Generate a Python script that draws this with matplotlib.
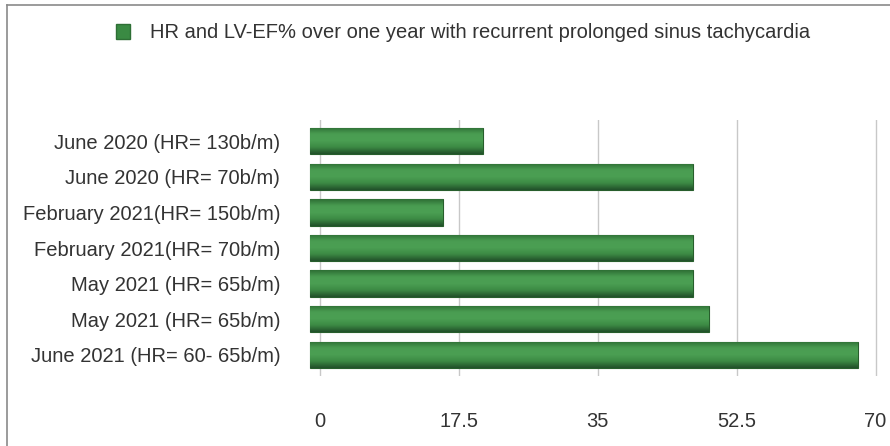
import matplotlib.pyplot as plt
import numpy as np
from matplotlib.colors import LinearSegmentedColormap
from matplotlib.lines import Line2D
from matplotlib.patches import Patch

# data (LV-EF %)
labels = [
    'June 2020 (HR= 130b/m)',
    'June 2020 (HR= 70b/m)',
    'February 2021(HR= 150b/m)',
    'February 2021(HR= 70b/m)',
    'May 2021 (HR= 65b/m)',
    'May 2021 (HR= 65b/m)',
    'June 2021 (HR= 60- 65b/m)',
]
values = [20.5, 47, 15.5, 47, 47, 49, 67.8]
ticks = [0, 17.5, 35, 52.5, 70]
tick_labels = ['0', '17.5', '35', '52.5', '70']
series_name = 'HR and LV-EF% over one year with recurrent prolonged sinus tachycardia'

plt.rcParams['font.family'] = ['Liberation Sans', 'DejaVu Sans']
text_col = '#333333'
fs = 14.5

fig = plt.figure(figsize=(8.9, 4.46), dpi=100)
ax = fig.add_axes([308 / 890, 1 - 376 / 446, 570 / 890, 256 / 446])

# bars stick out a little to the left of zero, like the 3D original
start = -1.2
y = np.arange(len(labels))
bars = ax.barh(y, np.array(values) - start, height=0.74, left=start,
               color='#3f8f47', edgecolor='#275e2c', linewidth=0.8, zorder=2)

# cylinder-like shading on each bar
shade = LinearSegmentedColormap.from_list(
    'cyl', ['#2e6f35', '#4a9d52', '#4b9f53', '#3c8a44', '#21502a'])
grad = np.linspace(0, 1, 64).reshape(-1, 1)
for b in bars:
    x0, y0 = b.get_x(), b.get_y()
    w, h = b.get_width(), b.get_height()
    im = ax.imshow(grad, cmap=shade, aspect='auto', zorder=3,
                   extent=(x0, x0 + w, y0 + h, y0), interpolation='bicubic')
    im.set_clip_path(b)

ax.set_xlim(-1.5, 70.3)
ax.set_ylim(len(labels) - 0.4, -0.6)
ax.set_xticks(ticks)
ax.set_xticklabels(tick_labels)
ax.set_yticks(y)
ax.set_yticklabels(labels)
ax.tick_params(axis='both', length=0, labelsize=fs, labelcolor=text_col)
ax.tick_params(axis='x', pad=26)
ax.tick_params(axis='y', pad=20)
ax.grid(axis='x', color='#c8c8c8', linewidth=1.0, zorder=0)
for s in ax.spines.values():
    s.set_visible(False)

fig.legend(handles=[Patch(facecolor='#3a8a43', edgecolor='#2e6f35')],
           labels=[series_name], loc='center', bbox_to_anchor=(0.52, 1 - 33 / 446),
           frameon=False, fontsize=fs, handlelength=0.7, handleheight=0.7,
           handletextpad=1.0, labelcolor=text_col)

# frame lines at the left and top edge
fig.add_artist(Line2D([7 / 890, 7 / 890], [0, 1 - 5 / 446], color='#8a8a8a', lw=1.2))
fig.add_artist(Line2D([7 / 890, 1], [1 - 5 / 446, 1 - 5 / 446], color='#8a8a8a', lw=1.2))

fig.savefig('out.png', dpi=100)
